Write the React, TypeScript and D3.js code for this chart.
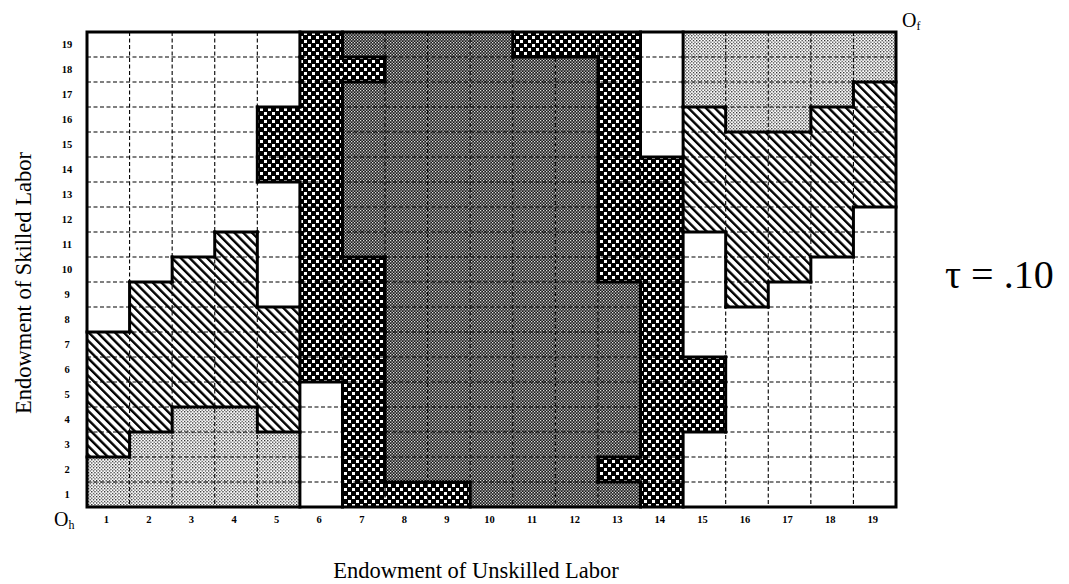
import React from 'react';
import * as d3 from 'd3';

// tick labels of both axes
const colTicks = [1, 2, 3, 4, 5, 6, 7, 8, 9, 10, 11, 12, 13, 14, 15, 16, 17, 18, 19];
const rowTicks = [1, 2, 3, 4, 5, 6, 7, 8, 9, 10, 11, 12, 13, 14, 15, 16, 17, 18, 19];

// regions: [column, first row, last row]
const dotted = [
  [1, 1, 2], [2, 1, 3], [3, 1, 4], [4, 1, 4], [5, 1, 3],
  [15, 17, 19], [16, 16, 19], [17, 16, 19], [18, 17, 19], [19, 18, 19],
];
const hatched = [
  [1, 3, 7], [2, 4, 9], [3, 5, 10], [4, 5, 11], [5, 4, 8],
  [15, 12, 16], [16, 9, 15], [17, 10, 15], [18, 11, 16], [19, 13, 17],
];
const checkered = [
  [5, 14, 16], [6, 6, 19], [7, 1, 10], [7, 18, 18], [8, 1, 1], [9, 1, 1],
  [11, 19, 19], [12, 19, 19], [13, 2, 2], [13, 10, 19], [14, 1, 14], [15, 4, 6],
];
const shaded = [
  [7, 11, 17], [7, 19, 19], [8, 2, 19], [9, 2, 19], [10, 1, 19],
  [11, 1, 18], [12, 1, 18], [13, 1, 1], [13, 3, 9],
];

const regions = [
  { key: 'D', fill: 'url(#dots)', cells: dotted },
  { key: 'H', fill: 'url(#hatch)', cells: hatched },
  { key: 'C', fill: 'url(#check)', cells: checkered },
  { key: 'G', fill: 'url(#fine)', cells: shaded },
];

const W = 1069;
const H = 584;
const serif = '"Liberation Serif", "Times New Roman", serif';

export default function App() {
  const x = d3.scaleBand<number>().domain(colTicks).range([87, 896]);
  const y = d3.scaleBand<number>().domain(rowTicks).range([507, 32]);
  const bw = x.bandwidth();
  const bh = y.bandwidth();

  const typeOf = new Map<string, string>();
  regions.forEach(rg =>
    rg.cells.forEach(([c, r0, r1]) => {
      for (let r = r0; r <= r1; r++) typeOf.set(`${c}-${r}`, rg.key);
    })
  );
  const t = (c: number, r: number) => typeOf.get(`${c}-${r}`) || 'W';

  const borders: { x1: number; y1: number; x2: number; y2: number }[] = [];
  colTicks.forEach(c => {
    rowTicks.forEach(r => {
      if (c < 19 && t(c, r) !== t(c + 1, r)) {
        const xx = x(c)! + bw;
        borders.push({ x1: xx, y1: y(r)!, x2: xx, y2: y(r)! + bh });
      }
      if (r < 19 && t(c, r) !== t(c, r + 1)) {
        const yy = y(r)!;
        borders.push({ x1: x(c)!, y1: yy, x2: x(c)! + bw, y2: yy });
      }
    });
  });

  return (
    <svg width={W} height={H} style={{ position: 'absolute', left: 0, top: 0, background: '#fff' }}>
      <defs>
        <pattern id="dots" width="3.2" height="3.2" patternUnits="userSpaceOnUse">
          <rect width="3.2" height="3.2" fill="#fff" />
          <rect x="0" y="0" width="1.2" height="1.2" fill="#111" />
          <rect x="1.6" y="1.6" width="1.2" height="1.2" fill="#111" />
        </pattern>
        <pattern id="hatch" width="6.2" height="6.2" patternUnits="userSpaceOnUse" patternTransform="rotate(-45)">
          <rect width="6.2" height="6.2" fill="#fff" />
          <rect x="0" y="0" width="2.4" height="6.2" fill="#000" />
        </pattern>
        <pattern id="check" width="8" height="8" patternUnits="userSpaceOnUse">
          <rect width="8" height="8" fill="#000" />
          <rect x="0" y="0" width="4" height="4" fill="#fff" />
          <rect x="4" y="4" width="4" height="4" fill="#fff" />
          <rect x="3" y="0" width="1" height="4" fill="#000" />
          <rect x="0" y="3" width="4" height="1" fill="#000" />
          <rect x="7" y="4" width="1" height="4" fill="#000" />
          <rect x="4" y="7" width="4" height="1" fill="#000" />
        </pattern>
        <pattern id="fine" width="3" height="3" patternUnits="userSpaceOnUse">
          <rect width="3" height="3" fill="#1a1a1a" />
          <rect x="0" y="0" width="1.3" height="1.3" fill="#ddd" />
          <rect x="1.5" y="1.5" width="1.3" height="1.3" fill="#ddd" />
        </pattern>
      </defs>

      {regions.map(rg =>
        rg.cells.map(([c, r0, r1], i) => (
          <rect
            key={`${rg.key}${i}`}
            x={x(c)}
            y={y(r1)}
            width={bw}
            height={y(r0)! + bh - y(r1)!}
            fill={rg.fill}
          />
        ))
      )}

      {/* dashed cell grid */}
      <g stroke="#000" strokeWidth={1.1} strokeDasharray="4,2.5">
        {colTicks.slice(1).map(c => (
          <line key={`v${c}`} x1={x(c)} x2={x(c)} y1={32} y2={507} />
        ))}
        {rowTicks.slice(1).map(r => (
          <line key={`h${r}`} x1={87} x2={896} y1={y(r)! + bh} y2={y(r)! + bh} />
        ))}
      </g>

      {/* region boundaries */}
      <g stroke="#000" strokeWidth={3} strokeLinecap="square">
        {borders.map((b, i) => (
          <line key={i} {...b} />
        ))}
      </g>
      <rect x={87} y={32} width={809} height={475} fill="none" stroke="#000" strokeWidth={3} />

      {/* tick labels */}
      <g fontFamily={serif} fontWeight="bold" fontSize={10.5} textAnchor="middle">
        {colTicks.map(c => (
          <text key={`cx${c}`} x={x(c)! + bw / 2 - 2} y={523}>{c}</text>
        ))}
        {rowTicks.map(r => (
          <text key={`ry${r}`} x={67} y={y(r)! + bh / 2 + 3.5}>{r}</text>
        ))}
      </g>

      <g fontFamily={serif} fill="#000">
        <text x={54} y={526} fontSize={20}>
          O<tspan fontSize={12} dy={3}>h</tspan>
        </text>
        <text x={902} y={27} fontSize={20}>
          O<tspan fontSize={12} dy={3}>f</tspan>
        </text>
        <text x={476} y={578} fontSize={22.5} textAnchor="middle">Endowment of Unskilled Labor</text>
        <text transform="translate(31,283) rotate(-90)" fontSize={22.5} textAnchor="middle">
          Endowment of Skilled Labor
        </text>
        <text x={945} y={288} fontSize={40}>τ = .10</text>
      </g>
    </svg>
  );
}
